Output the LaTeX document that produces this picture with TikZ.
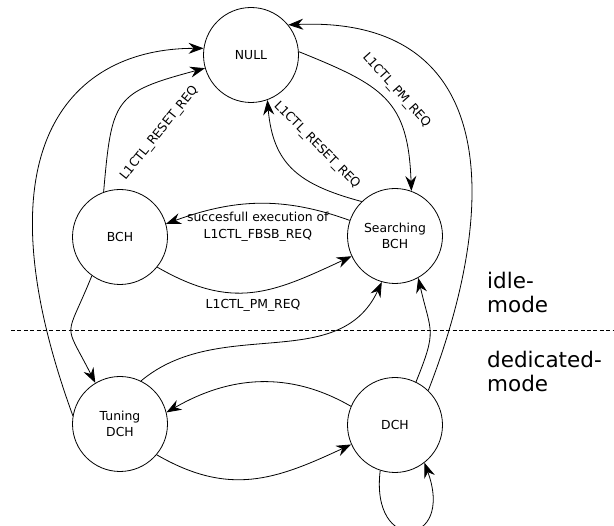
\documentclass[tikz,border=0pt]{standalone}
\usepackage{fontspec}
\setmainfont{DejaVu Sans}
\usetikzlibrary{arrows.meta,positioning}
\tikzset{
  statenode/.style={circle, draw, line width=0.8pt, minimum size=95pt, inner sep=0pt, align=center, font=\fontsize{12.4}{16.6}\selectfont},
  trans/.style={line width=0.8pt, -{Stealth[length=15pt,width=11pt,inset=5pt]}},
  lbl/.style={font=\fontsize{12.4}{16.6}\selectfont, inner sep=3.3pt},
  modetext/.style={font=\fontsize{21.5}{24}\selectfont, align=left, anchor=west, inner sep=0pt}
}
\begin{document}
\begin{tikzpicture}[x=1pt,y=1pt]
\useasboundingbox (0,0) rectangle (614,526);
\node[statenode] (null) at (251,471) {NULL};
\node[statenode] (bch) at (120,289) {BCH};
\node[statenode] (sbch) at (395,290) {Searching\\BCH};
\node[statenode] (tdch) at (120,102) {Tuning\\DCH};
\node[statenode] (dch) at (395,101) {DCH};
\draw[line width=0.8pt, dash pattern=on 4pt off 2.4pt] (11,196) -- (614,196);
\node[modetext] (idle) at (487,234) {idle-\\mode};
\node[modetext] (dedicated) at (487,155) {dedicated-\\mode};
\draw[trans] (null.4) to[out=-22, in=92, looseness=1.3] node[lbl, sloped, above, pos=.5, outer sep=5pt] {L1CTL\_PM\_REQ} (sbch.70);
\draw[trans] (sbch.134) to[out=165, in=-85, looseness=1.2] node[lbl, sloped, above, outer sep=24pt] {L1CTL\_RESET\_REQ} (null.-70);
\draw[trans] (bch.110) to[out=85, in=195, looseness=1.5] node[lbl, sloped, below, outer sep=37pt] {L1CTL\_RESET\_REQ} (null.196);
\draw[trans] (tdch.170) .. controls +(110:290) and +(180:130) .. (null.172);
\draw[trans] (dch.46) .. controls +(72,185) and +(212,9) .. (null.39);
\draw[trans] (sbch.161) to[out=160, in=20] node[lbl, below, align=center, outer sep=5.5pt] {succesfull execution of\\L1CTL\_FBSB\_REQ} (bch.16);
\draw[trans] (bch.-39) to[out=-30, in=-155, looseness=1.15] node[lbl, below, outer sep=4pt] {L1CTL\_PM\_REQ} (sbch.205);
\draw[trans] (bch.234) to[out=-112, in=117, looseness=1.7] (tdch.121);
\draw[trans] (tdch.64) to[out=40, in=-115] (sbch.254);
\draw[trans] (dch.64) to[out=68, in=-77, looseness=1.4] (sbch.-61);
\draw[trans] (dch.157) to[out=150, in=30] (tdch.14);
\draw[trans] (tdch.-40) to[out=-30, in=-155, looseness=1.1] (dch.204);
\draw[trans] (dch.-108) .. controls +(-97:85) and +(-70:90) .. (dch.-52);
\end{tikzpicture}
\end{document}
